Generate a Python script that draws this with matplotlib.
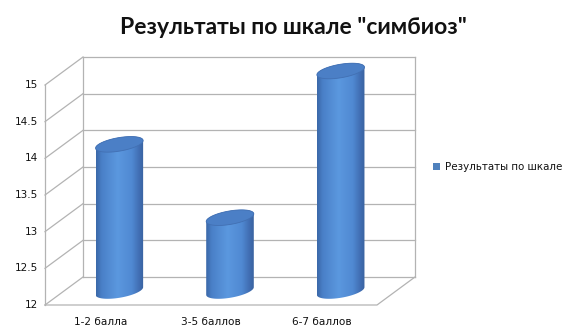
import numpy as np
import matplotlib
matplotlib.use('Agg')
import matplotlib.pyplot as plt
from matplotlib.patches import Polygon
from matplotlib.colors import LinearSegmentedColormap

# data
categories = ['1-2 балла', '3-5 баллов', '6-7 баллов']
values = [14, 13, 15]
yticks = [12, 12.5, 13, 13.5, 14, 14.5, 15]
ytick_labels = ['12', '12.5', '13', '13.5', '14', '14.5', '15']
title = 'Результаты по шкале "симбиоз"'
series_name = 'Результаты по шкале'

# geometry of the pseudo-3d box (pixel space)
X0, X1 = 83, 415          # back wall left / right
Y_LO, Y_HI = 277, 57      # back wall y for vmin / vmax
DX, DY = -38, 28          # depth offset (back -> front)
VMIN, VMAX = yticks[0], yticks[-1]
GRID = '#b3b3b3'

def yb(v):
    # value -> y on the back wall
    return Y_LO + (v - VMIN) / (VMAX - VMIN) * (Y_HI - Y_LO)

fig = plt.figure(figsize=(5.76, 3.36), dpi=100)
ax = fig.add_axes([0, 0, 1, 1])
ax.set_xlim(0, 576)
ax.set_ylim(336, 0)
ax.axis('off')

# back wall
for v in yticks:
    ax.plot([X0, X1], [yb(v), yb(v)], color=GRID, lw=0.9, zorder=1)
ax.plot([X0, X0], [yb(VMIN), yb(VMAX)], color=GRID, lw=0.9, zorder=1)
ax.plot([X1, X1], [yb(VMIN), yb(VMAX)], color=GRID, lw=0.9, zorder=1)
# left wall
for v in yticks:
    ax.plot([X0 + DX, X0], [yb(v) + DY, yb(v)], color=GRID, lw=0.9, zorder=1)
ax.plot([X0 + DX, X0 + DX], [yb(VMIN) + DY, yb(VMAX) + DY], color=GRID, lw=0.9, zorder=1)
# floor
ax.plot([X0 + DX, X1 + DX, X1], [yb(VMIN) + DY, yb(VMIN) + DY, yb(VMIN)], color=GRID, lw=0.9, zorder=1)

# y tick labels
for v, lab in zip(yticks, ytick_labels):
    ax.text(X0 + DX - 7, yb(v) + DY, lab, ha='right', va='center',
            fontsize=7.5, family='DejaVu Sans', color='#111111')

# cylinders
cmap = LinearSegmentedColormap.from_list('cyl', [
    (0.0, '#3a68a8'), (0.12, '#4a80c8'), (0.45, '#5b98df'),
    (0.75, '#5089d2'), (0.9, '#416fb4'), (1.0, '#3a63a0')])
slot = (X1 - X0) / len(categories)
a = slot * 0.215          # half width
b = 6.8                   # ellipse half height
s = 0.16                  # tilt (shear)
grad = np.linspace(0, 1, 200).reshape(1, -1)

def ell(cx, cy, t):
    return cx + a * np.cos(t), cy + b * np.sin(t) - s * a * np.cos(t)

for i, (cat, v) in enumerate(zip(categories, values)):
    cx = X0 + slot * (i + 0.5) + DX / 2
    ytop = yb(v) + DY / 2
    ybot = yb(VMIN) + DY / 2
    t1 = np.linspace(np.pi, 0, 60)
    t2 = np.linspace(0, -np.pi, 60)
    bx, by = ell(cx, ybot, t1)
    tx, ty = ell(cx, ytop, t2)
    verts = np.concatenate([np.column_stack([bx, by]), np.column_stack([tx, ty])])
    body = Polygon(verts, closed=True, facecolor='none', edgecolor='none')
    ax.add_patch(body)
    im = ax.imshow(grad, cmap=cmap, extent=[cx - a, cx + a, ybot + b + 8, ytop - b - 8],
                   aspect='auto', zorder=2, interpolation='bilinear')
    im.set_clip_path(body)
    tt = np.linspace(0, 2 * np.pi, 120)
    ex, ey = ell(cx, ytop, tt)
    ax.add_patch(Polygon(np.column_stack([ex, ey]), closed=True, facecolor='#4b7fc6',
                         edgecolor='#4270b3', lw=0.6, zorder=3))
    # category label (front edge)
    ax.text(cx + DX / 2, yb(VMIN) + DY + 17, cat, ha='center', va='center',
            fontsize=7.6, family='DejaVu Sans', color='#111111')

# title
ax.text(293, 28, title, ha='center', va='center', fontsize=16.5,
        family='Lato', fontweight='bold', color='#111111')

# legend
ax.add_patch(Polygon([[433, 163], [440, 163], [440, 170], [433, 170]], closed=True,
                     facecolor='#4f81bd', edgecolor='none'))
ax.text(445, 166.5, series_name, ha='left', va='center', fontsize=7.4,
        family='DejaVu Sans', color='#111111')

fig.savefig('out.png', dpi=100)
